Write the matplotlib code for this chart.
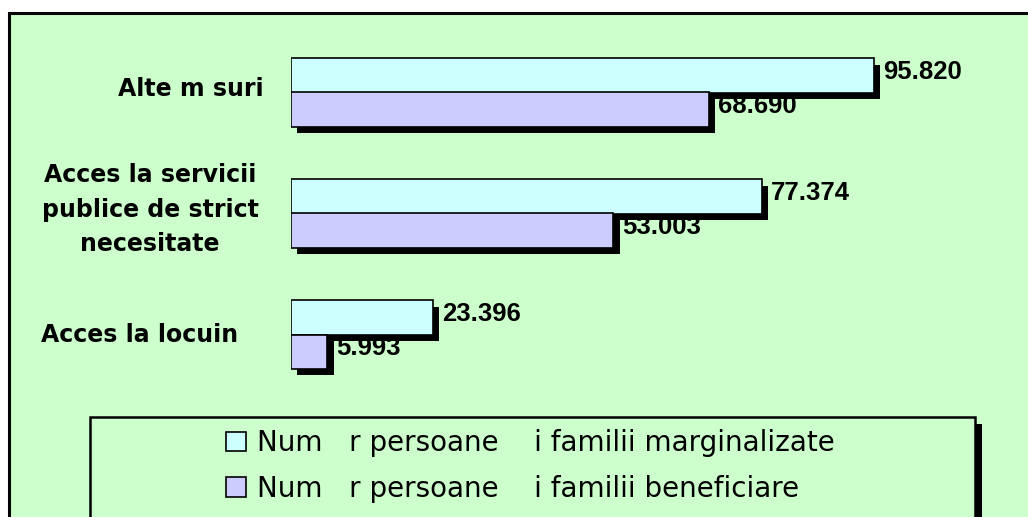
import matplotlib
matplotlib.use("Agg")
import matplotlib.pyplot as plt
import matplotlib.patheffects as pe
from matplotlib.patches import Rectangle
from matplotlib.transforms import blended_transform_factory
import numpy as np

# data (bottom to top, as the bars are stacked in the chart)
categories = ["Acces la locuin", "Acces la servicii\npublice de strict\nnecesitate", "Alte m suri"]
marginalizate = [23396, 77374, 95820]
beneficiare = [5993, 53003, 68690]
series_names = ["Num   r persoane    i familii marginalizate",
                "Num   r persoane    i familii beneficiare"]

GREEN = "#CCFFCC"
CYAN = "#CCFFFF"
LAV = "#CCCCFF"

W, H = 1028, 517
fig = plt.figure(figsize=(W / 100, H / 100), dpi=100)
fig.patch.set_facecolor("white")

def fx(x):
    return x / W

def fy(y):
    return 1 - y / H

# chart area background with border
fig.patches.append(Rectangle((fx(9), fy(540)), fx(1040 - 9), (540 - 13) / H,
                             transform=fig.transFigure, facecolor=GREEN,
                             edgecolor="black", linewidth=2.2, zorder=0))

ax = fig.add_axes([fx(291), fy(395), 730 / W, 363 / H])
ax.set_zorder(3)
ax.set_facecolor("none")
ax.set_xlim(0, 120000)
ax.set_ylim(-0.5, 2.5)
ax.axis("off")

y = np.arange(len(categories))
h = 0.281
shadow = [pe.SimplePatchShadow(offset=(4.4, -4.4), shadow_rgbFace="black", alpha=1.0), pe.Normal()]

b1 = ax.barh(y + h / 2, marginalizate, height=h, color=CYAN, edgecolor="black", linewidth=1.2)
b2 = ax.barh(y - h / 2, beneficiare, height=h, color=LAV, edgecolor="black", linewidth=1.2)
for bar in list(b1) + list(b2):
    bar.set_path_effects(shadow)

def fmt(v):
    return f"{v:,}".replace(",", ".")

for vals, off in ((marginalizate, h / 2), (beneficiare, -h / 2)):
    for yi, v in zip(y, vals):
        ax.annotate(fmt(v), (v, yi + off), xytext=(6.5, 2.5), textcoords="offset points",
                    ha="left", va="center", fontsize=18.5, fontweight="bold",
                    family="Liberation Sans")

# category labels, placed by hand like the original sheet
label_x = [140, 150, 191]
label_dy = [0.0, 0.03, 0.03]
tr = blended_transform_factory(fig.transFigure, ax.transData)
for yi, lab, lx, dy in zip(y, categories, label_x, label_dy):
    ax.text(fx(lx), yi + dy, lab, transform=tr, clip_on=False,
            ha="center", va="center", multialignment="center", fontsize=17,
            fontweight="bold", family="DejaVu Sans", linespacing=1.55)

# legend box with shadow
fig.patches.append(Rectangle((fx(97), fy(540)), fx(982 - 97), (540 - 424) / H,
                             transform=fig.transFigure, facecolor="black",
                             edgecolor="none", zorder=1))
fig.patches.append(Rectangle((fx(90), fy(540)), fx(975 - 90), (540 - 417) / H,
                             transform=fig.transFigure, facecolor=GREEN,
                             edgecolor="black", linewidth=1.8, zorder=2))

leg = fig.legend([b1, b2], series_names, loc="upper left",
                 bbox_to_anchor=(fx(207), fy(410)), frameon=False,
                 prop={"family": "DejaVu Sans", "size": 20},
                 handlelength=0.7, handleheight=0.7, handletextpad=0.4,
                 labelspacing=0.62, borderpad=0.2)
leg.set_zorder(6)
for hnd in leg.legend_handles:
    hnd.set_path_effects([])
    hnd.set_linewidth(1.2)

fig.savefig("out.png", dpi=100, facecolor=fig.get_facecolor())
